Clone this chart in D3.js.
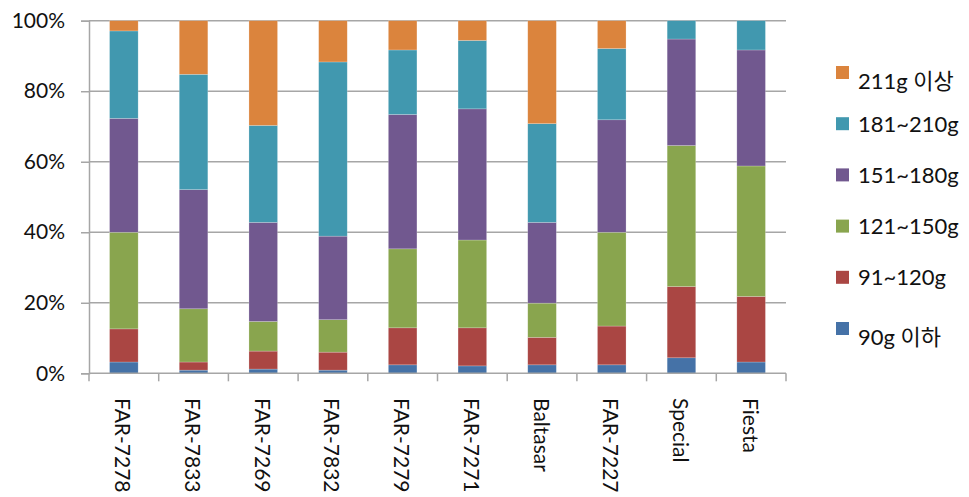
<!DOCTYPE html>
<html>
<head>
<meta charset="utf-8">
<script src="https://cdn.jsdelivr.net/npm/d3@7"></script>
<style>
  body { margin: 0; background: #fff; }
  text { font-family: Lato, "Noto Sans CJK KR", sans-serif; fill: #111; }
</style>
</head>
<body>
<script>
// categories and series (percent of fruit in each weight class)
var categories = ["FAR-7278", "FAR-7833", "FAR-7269", "FAR-7832", "FAR-7279", "FAR-7271", "Baltasar", "FAR-7227", "Special", "Fiesta"];
var seriesNames = ["90g 이하", "91~120g", "121~150g", "151~180g", "181~210g", "211g 이상"];
var w90  = [3.2, 0.9, 1.2, 0.9, 2.4, 2.1, 2.4, 2.4, 4.4, 3.2];
var w120 = [9.4, 2.3, 5.1, 5.1, 10.5, 10.8, 7.8, 11.0, 20.2, 18.6];
var w150 = [27.4, 15.1, 8.4, 9.2, 22.4, 24.9, 9.7, 26.6, 40.0, 37.0];
var w180 = [32.3, 33.8, 28.1, 23.7, 38.1, 37.2, 22.9, 31.9, 30.2, 32.9];
var w210 = [24.8, 32.7, 27.5, 49.4, 18.3, 19.4, 28.0, 20.2, 5.2, 8.3];
var w211 = [2.9, 15.2, 29.7, 11.7, 8.3, 5.6, 29.2, 7.9, 0, 0];
var yTicks = [0, 0.2, 0.4, 0.6, 0.8, 1];

var colors = ["#4572A7", "#AA4643", "#89A54E", "#71588F", "#4198AF", "#DB843D"];
var seriesValues = [w90, w120, w150, w180, w210, w211];

var rows = categories.map(function(c, i) {
    var r = { cat: c };
    seriesNames.forEach(function(s, j) { r[s] = seriesValues[j][i]; });
    return r;
});

var stacked = d3.stack()
    .keys(seriesNames)
    .offset(d3.stackOffsetExpand)(rows);

var svg = d3.select("body")
    .append("svg")
    .attr("width", 969)
    .attr("height", 497);

var x = d3.scaleBand()
    .domain(categories)
    .range([89, 786])
    .paddingInner(0.59)
    .paddingOuter(0.295);

var y = d3.scaleLinear()
    .domain([0, 1])
    .range([373.3, 20.7]);

var color = d3.scaleOrdinal().domain(seriesNames).range(colors);

// gridlines
svg.selectAll("line.grid")
    .data(yTicks.slice(1)).enter()
    .append("line")
    .attr("class", "grid")
    .attr("x1", 89)
    .attr("x2", 786)
    .attr("y1", function(d) { return y(d); })
    .attr("y2", function(d) { return y(d); })
    .attr("stroke", "#a6a6a6")
    .attr("stroke-width", 1.5);

// bars
svg.selectAll("g.layer")
    .data(stacked).enter()
    .append("g")
    .attr("class", "layer")
    .attr("fill", function(d) { return color(d.key); })
    .selectAll("rect")
    .data(function(d) { return d; }).enter()
    .append("rect")
    .attr("x", function(d) { return x(d.data.cat); })
    .attr("width", x.bandwidth())
    .attr("y", function(d) { return y(d[1]); })
    .attr("height", function(d) { return y(d[0]) - y(d[1]); })
    .attr("stroke", "rgba(255,255,255,0.35)")
    .attr("stroke-width", 0.6);

// y axis
var yAxis = svg.append("g")
    .attr("transform", "translate(89,0)")
    .call(d3.axisLeft(y).tickValues(yTicks).tickFormat(d3.format(".0%")).tickSize(8).tickPadding(16));
yAxis.select(".domain").attr("stroke", "#a6a6a6").attr("stroke-width", 1.5);
yAxis.selectAll(".tick line").attr("stroke", "#a6a6a6").attr("stroke-width", 1.5);
yAxis.selectAll(".tick text")
    .attr("font-family", "Lato, sans-serif")
    .attr("font-size", "21px")
    .attr("fill", "#111");

// x axis line and boundary ticks
var xAxis = svg.append("g")
    .attr("transform", "translate(0," + y(0) + ")");
xAxis.append("line")
    .attr("x1", 89).attr("x2", 786)
    .attr("stroke", "#a6a6a6").attr("stroke-width", 1.5);
var bounds = categories.map(function(c) { return x(c) - x.step() * x.paddingInner() / 2; });
bounds.push(x(categories[categories.length - 1]) + x.bandwidth() + x.step() * x.paddingInner() / 2);
xAxis.selectAll("line.xtick")
    .data(bounds).enter()
    .append("line")
    .attr("class", "xtick")
    .attr("x1", function(d) { return d; })
    .attr("x2", function(d) { return d; })
    .attr("y1", 0).attr("y2", 8)
    .attr("stroke", "#a6a6a6").attr("stroke-width", 1.5);

// rotated category labels
svg.selectAll("text.cat")
    .data(categories).enter()
    .append("text")
    .attr("class", "cat")
    .attr("transform", function(d) {
        return "translate(" + (x(d) + x.bandwidth() / 2) + ",398) rotate(90)";
    })
    .attr("dominant-baseline", "central")
    .attr("font-family", "'Liberation Sans', Arial, sans-serif")
    .attr("font-size", "21px")
    .text(function(d) { return d; });

// legend (top to bottom: heaviest first)
var legendItems = seriesNames.slice().reverse();
var legend = svg.selectAll("g.legend")
    .data(legendItems).enter()
    .append("g")
    .attr("class", "legend")
    .attr("transform", function(d, i) { return "translate(836," + (66 + i * 51.2) + ")"; });
legend.append("rect")
    .attr("width", 13)
    .attr("height", 13)
    .attr("fill", function(d) { return color(d); });
legend.append("text")
    .attr("x", 22)
    .attr("y", function(d) { return /[\uac00-\ud7a3]/.test(d) ? 23 : 14.5; })
    .attr("font-size", "22px")
    .text(function(d) { return d; });
</script>
</body>
</html>
